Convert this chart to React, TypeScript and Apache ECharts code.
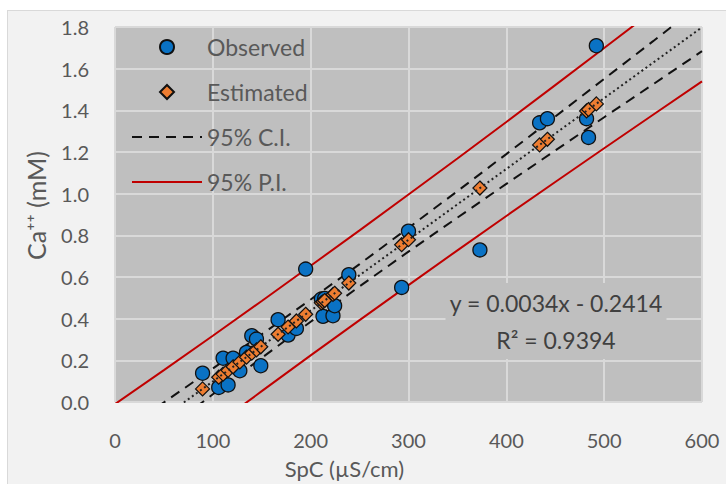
import React, { useEffect, useRef } from "react";
import * as echarts from "echarts";

// Observed samples: specific conductance (µS/cm) vs Ca++ (mM)
const observedX = [89.5, 106, 110.5, 115.6, 120.7, 127.6, 134.4, 139.8, 144.6, 149, 166.7, 176.9, 185.4, 194.9, 210.9, 212.6, 214.3, 222.8, 224.5, 239, 293, 300, 373, 434, 442, 482, 484, 492];
const observedY = [0.138, 0.07, 0.21, 0.082, 0.21, 0.15, 0.238, 0.318, 0.302, 0.174, 0.395, 0.321, 0.353, 0.638, 0.494, 0.411, 0.497, 0.414, 0.462, 0.611, 0.55, 0.82, 0.73, 1.34, 1.36, 1.36, 1.27, 1.71];

// Estimated values (on the fitted line) at the same SpC values
const estimatedY = [0.063, 0.119, 0.134, 0.152, 0.169, 0.192, 0.215, 0.234, 0.250, 0.265, 0.325, 0.360, 0.389, 0.421, 0.476, 0.481, 0.487, 0.516, 0.522, 0.571, 0.755, 0.779, 1.027, 1.234, 1.261, 1.397, 1.404, 1.431];

// Confidence / prediction bands
const bandX = [0, 50, 100, 150, 200, 250, 300, 350, 400, 450, 500, 550, 600];
const ciUpper = [-0.162, -0.002, 0.161, 0.325, 0.492, 0.662, 0.836, 1.012, 1.190, 1.370, 1.551, 1.732, 1.914];
const ciLower = [-0.321, -0.141, 0.037, 0.212, 0.385, 0.555, 0.722, 0.885, 1.047, 1.207, 1.367, 1.525, 1.684];
const piUpper = [-0.010, 0.153, 0.318, 0.485, 0.654, 0.824, 0.996, 1.169, 1.344, 1.521, 1.699, 1.878, 2.059];
const piLower = [-0.472, -0.296, -0.121, 0.052, 0.224, 0.393, 0.561, 0.728, 0.893, 1.056, 1.218, 1.379, 1.539];

// Fitted trend line end points
const trendX = [0, 600];
const trendY = [-0.2414, 1.7986];

const equationText = "y = 0.0034x - 0.2414";
const r2Text = "R² = 0.9394";

const FONT = "Lato, 'Open Sans', sans-serif";
const GREY = "#595959";
const PLOT_BG = "#bfbfbf";

const zip = (xs: number[], ys: number[]) => xs.map((x, i) => [x, ys[i]]);

export default function App() {
  const ref = useRef<HTMLDivElement>(null);
  useEffect(() => {
    if (!ref.current) return;
    const chart = echarts.init(ref.current, undefined, { renderer: "svg" });
    const legendText = { color: GREY, fontSize: 23, fontFamily: FONT, lineHeight: 24 };
    chart.setOption({
      animation: false,
      backgroundColor: "transparent",
      textStyle: { fontFamily: FONT },
      grid: {
        left: 115,
        right: 24,
        top: 27,
        bottom: 81,
        show: true,
        backgroundColor: PLOT_BG,
        borderWidth: 0,
      },
      legend: [
        {
          orient: "vertical",
          left: 159,
          top: 35,
          padding: 0,
          itemWidth: 14,
          itemHeight: 14,
          itemGap: 21,
          textStyle: { ...legendText, padding: [0, 0, 0, 28] },
          data: [
            { name: "Observed", icon: "circle" },
            { name: "Estimated", icon: "diamond" },
          ],
        },
        {
          orient: "vertical",
          left: 131,
          top: 125,
          padding: 0,
          itemWidth: 70,
          itemHeight: 14,
          itemGap: 21,
          itemStyle: { opacity: 0, borderWidth: 0 },
          textStyle: legendText,
          data: ["95% C.I.", "95% P.I."],
        },
      ],
      xAxis: {
        type: "value",
        min: 0,
        max: 600,
        interval: 100,
        axisLine: { show: false },
        axisTick: { show: false },
        axisLabel: { color: GREY, fontSize: 20, margin: 28, fontFamily: FONT },
        splitLine: { show: true, lineStyle: { color: "#d9d9d9", width: 2 } },
        name: "SpC (µS/cm)",
        nameLocation: "middle",
        nameGap: 55,
        nameTextStyle: { color: GREY, fontSize: 22, fontFamily: FONT, padding: [0, 128, 0, 0] },
      },
      yAxis: {
        type: "value",
        min: 0,
        max: 1.8,
        interval: 0.2,
        axisLine: { show: false },
        axisTick: { show: false },
        axisLabel: {
          color: GREY,
          fontSize: 20,
          margin: 26,
          fontFamily: FONT,
          formatter: (v: number) => v.toFixed(1),
        },
        splitLine: { show: true, lineStyle: { color: "#d9d9d9", width: 2 } },
        name: "Ca⁺⁺ (mM)",
        nameLocation: "middle",
        nameGap: 67,
        nameTextStyle: { color: GREY, fontSize: 25, fontFamily: FONT, padding: [0, 0, 0, 18] },
      },
      graphic: [
        {
          type: "text",
          x: 556,
          y: 321,
          z: 100,
          style: {
            text: equationText + "\n" + r2Text,
            fill: "#404040",
            font: `23px ${FONT}`,
            lineHeight: 37,
            align: "center",
            verticalAlign: "middle",
            backgroundColor: PLOT_BG,
            padding: [1, 4, 1, 4],
          },
        },
      ],
      series: [
        {
          name: "95% P.I.",
          type: "line",
          data: zip(bandX, piUpper),
          showSymbol: false,
          symbol: "none",
          lineStyle: { color: "#c00000", width: 2 },
          itemStyle: { color: "#c00000" },
          z: 2,
        },
        {
          name: "95% P.I.",
          type: "line",
          data: zip(bandX, piLower),
          showSymbol: false,
          symbol: "none",
          lineStyle: { color: "#c00000", width: 2 },
          itemStyle: { color: "#c00000" },
          z: 2,
        },
        {
          name: "95% C.I.",
          type: "line",
          data: zip(bandX, ciUpper),
          showSymbol: false,
          symbol: "none",
          lineStyle: { color: "#111", width: 2, type: [10, 7] },
          itemStyle: { color: "#111" },
          z: 2,
        },
        {
          name: "95% C.I.",
          type: "line",
          data: zip(bandX, ciLower),
          showSymbol: false,
          symbol: "none",
          lineStyle: { color: "#111", width: 2, type: [10, 7] },
          itemStyle: { color: "#111" },
          z: 2,
        },
        {
          name: "Observed",
          type: "scatter",
          data: zip(observedX, observedY),
          symbol: "circle",
          symbolSize: 14,
          itemStyle: { color: "#0a72c4", borderColor: "#111", borderWidth: 1.3, opacity: 1 },
          z: 3,
        },
        {
          name: "Estimated",
          type: "scatter",
          data: zip(observedX, estimatedY),
          symbol: "diamond",
          symbolSize: 14,
          itemStyle: { color: "#ed7d31", borderColor: "#111", borderWidth: 1.2, opacity: 1 },
          z: 4,
        },
        {
          name: "Trend",
          type: "line",
          data: zip(trendX, trendY),
          showSymbol: false,
          symbol: "none",
          lineStyle: { color: "#222", width: 2, type: [2, 3] },
          z: 5,
        },
      ],
    });
    return () => chart.dispose();
  }, []);

  return (
    <div
      style={{
        position: "fixed",
        left: 0,
        top: 0,
        width: 726,
        height: 484,
        overflow: "hidden",
        background: "#ffffff",
      }}
    >
      <div
        style={{
          position: "absolute",
          left: 7,
          top: 10,
          width: 740,
          height: 490,
          background: "#f2f2f2",
          border: "1px solid #d9d9d9",
        }}
      />
      <div ref={ref} style={{ position: "absolute", left: 0, top: 0, width: 726, height: 484 }} />
    </div>
  );
}
